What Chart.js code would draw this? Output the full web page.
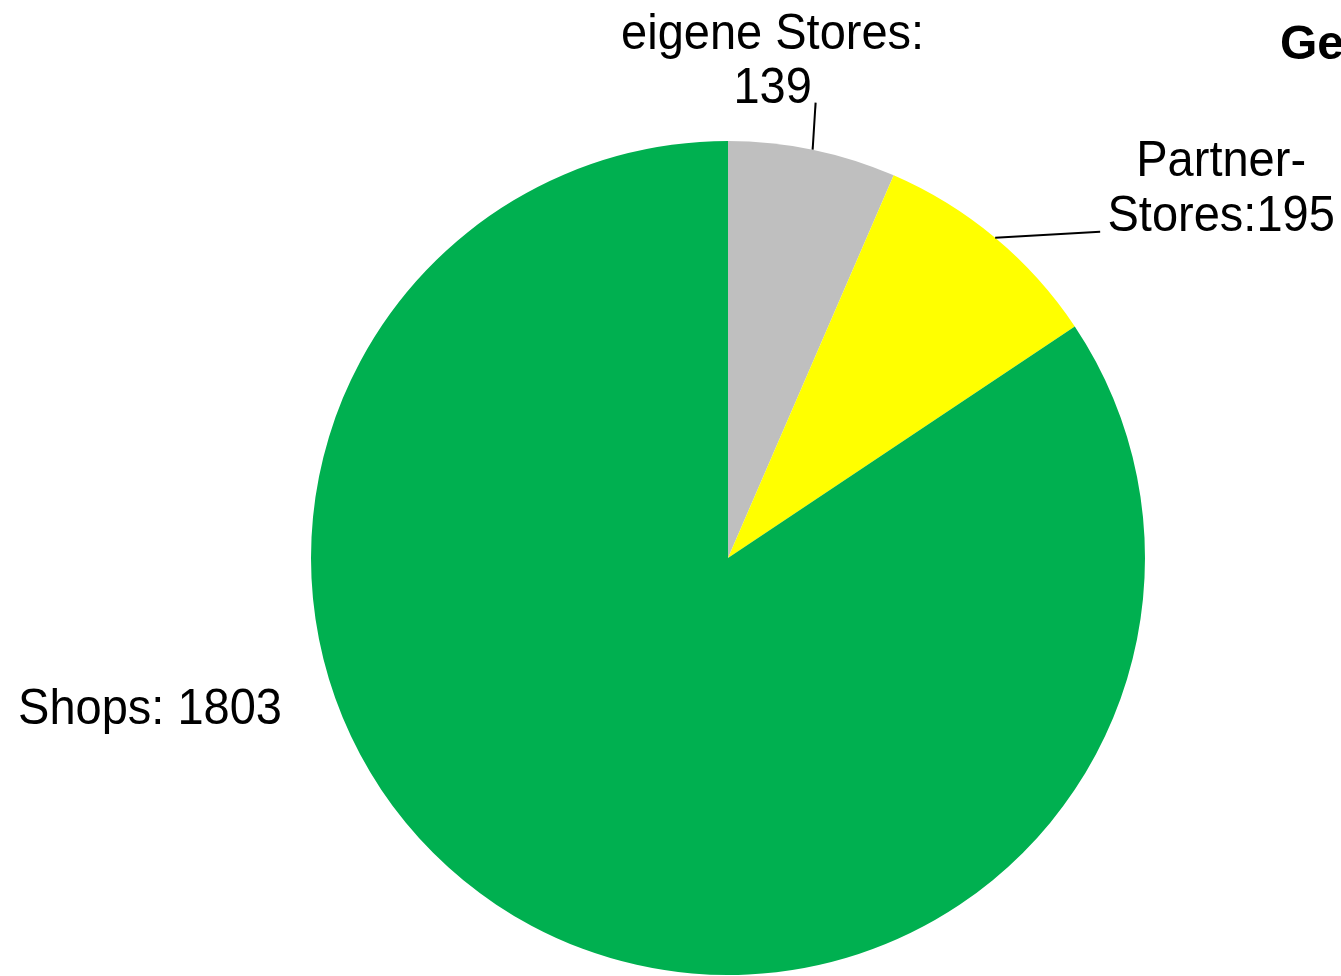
<!DOCTYPE html>
<html>
<head>
<meta charset="utf-8">
<title>Stores und Shops</title>
<script src="https://cdn.jsdelivr.net/npm/chart.js@4/dist/chart.umd.min.js"></script>
<style>
  html, body { margin: 0; padding: 0; background: #fff; overflow: hidden; }
  #wrap { width: 1341px; height: 976px; }
</style>
</head>
<body>
<div id="wrap"><canvas id="pie" width="1341" height="976"></canvas></div>
<script>
// ============================================
// Data
// ============================================

const categories = ['eigene Stores', 'Partner-Stores', 'Shops'];
const values = [139, 195, 1803];
const sliceColors = ['#BFBFBF', '#FFFF00', '#00B050'];
const labelLines = [
  ['eigene Stores:', '139'],
  ['Partner-', 'Stores:195'],
  ['Shops: 1803']
];
const titleText = 'Ge';

// ============================================
// Label placement (styling only)
// ============================================

// leader: offset of the line end from the slice edge point
// text: offsets of the text anchor from the line end (or centre if no leader)
const labelStyle = [
  { leader: [3, -47], text: [-43, -54], lineGap: 54, align: 'center' },
  { leader: [105, -6], text: [121, -56], lineGap: 55, align: 'center' },
  { leader: null, text: [-446, 166], lineGap: 54, align: 'right' }
];

const FONT = '47px "Liberation Sans", Arial, sans-serif';

// ============================================
// Label plugin
// ============================================

const pieLabels = {
  id: 'pieLabels',
  afterDraw(chart) {
    const ctx = chart.ctx;
    const arcs = chart.getDatasetMeta(0).data;
    ctx.save();
    ctx.fillStyle = '#000';
    ctx.strokeStyle = '#000';
    ctx.lineWidth = 2;
    ctx.font = FONT;
    ctx.textBaseline = 'alphabetic';

    arcs.forEach((arc, i) => {
      const st = labelStyle[i];
      const mid = (arc.startAngle + arc.endAngle) / 2;
      let ax, ay;
      if (st.leader) {
        const sx = arc.x + arc.outerRadius * Math.cos(mid);
        const sy = arc.y + arc.outerRadius * Math.sin(mid);
        ax = sx + st.leader[0];
        ay = sy + st.leader[1];
        ctx.beginPath();
        ctx.moveTo(sx, sy);
        ctx.lineTo(ax, ay);
        ctx.stroke();
      } else {
        ax = arc.x;
        ay = arc.y;
      }
      const tx = ax + st.text[0];
      const ty = ay + st.text[1];
      ctx.textAlign = st.align;
      labelLines[i].forEach((line, k) => {
        // the source text is a little taller than Arial, stretch vertically
        const by = ty + k * st.lineGap;
        ctx.save();
        ctx.translate(tx, by);
        ctx.scale(1, 1.05);
        ctx.fillText(line, 0, 0);
        ctx.restore();
      });
    });

    // title, cut off at the right edge like the source
    ctx.font = 'bold 48px "Liberation Sans", Arial, sans-serif';
    ctx.textAlign = 'left';
    ctx.fillText(titleText, 1280, 59);
    ctx.restore();
  }
};

// ============================================
// Chart
// ============================================

new Chart(document.getElementById('pie'), {
  type: 'pie',
  data: {
    labels: categories,
    datasets: [{
      data: values,
      backgroundColor: sliceColors,
      borderWidth: 0
    }]
  },
  options: {
    responsive: false,
    animation: false,
    devicePixelRatio: 1,
    layout: {
      padding: { left: 311, right: 196, top: 141, bottom: 1 }
    },
    plugins: {
      legend: { display: false },
      tooltip: { enabled: false }
    }
  },
  plugins: [pieLabels]
});
</script>
</body>
</html>
